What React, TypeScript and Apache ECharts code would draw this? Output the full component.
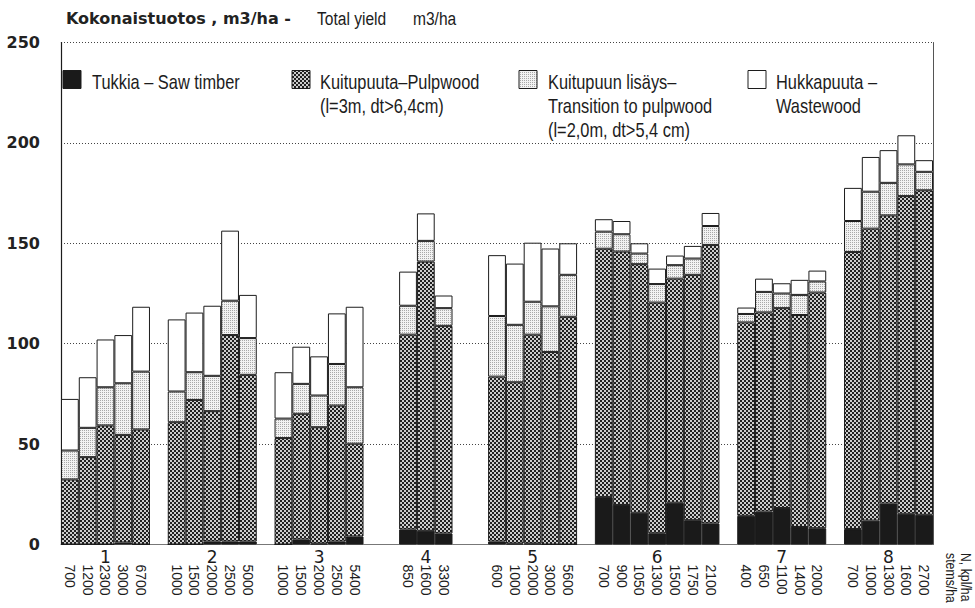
import React, { useEffect, useRef } from 'react';
import * as echarts from 'echarts';

// Stand groups 1–8 and the stem densities (stems/ha) of each plot in them
const groupNames = ['1', '2', '3', '4', '5', '6', '7', '8'];
const stemsPerHa = [
  ['700', '1200', '2300', '3000', '6700'],
  ['1000', '1500', '2000', '2500', '5000'],
  ['1000', '1500', '2000', '2500', '5400'],
  ['850', '1600', '3300'],
  ['600', '1000', '2000', '3000', '5600'],
  ['700', '900', '1050', '1300', '1500', '1750', '2100'],
  ['400', '650', '1100', '1400', '2000'],
  ['700', '1000', '1300', '1600', '2700'],
];

// Yield components, m3/ha (stacked from the bottom)
const sawTimber = [
  [0, 0, 0, 1, 0],
  [0, 0, 1.5, 1.5, 1.5],
  [0, 2.5, 0.5, 1.5, 4],
  [7.5, 6.8, 5.5],
  [1.5, 0.5, 0.5, 0, 0],
  [23.6, 19.7, 15.8, 5.6, 20.8, 12.1, 10.5],
  [14.3, 16.4, 18.2, 8.7, 8.1],
  [7.7, 11.9, 20.4, 15.3, 14.8],
];
const pulpwood = [
  [32.4, 43.5, 59.3, 53.6, 57.3],
  [60.9, 72.0, 64.9, 102.8, 83.0],
  [53.0, 62.6, 57.9, 67.7, 46.2],
  [97.0, 134.1, 103.4],
  [82.1, 80.3, 104.0, 95.9, 113.4],
  [123.7, 126.2, 123.8, 114.9, 111.6, 122.2, 138.7],
  [96.3, 99.2, 99.5, 105.6, 117.4],
  [138.0, 145.4, 143.5, 158.2, 161.6],
];
const transitionToPulp = [
  [14.4, 14.6, 19.0, 25.7, 28.8],
  [15.3, 13.8, 17.6, 17.1, 18.3],
  [9.7, 14.9, 15.8, 20.7, 28.1],
  [14.4, 10.3, 8.8],
  [30.2, 28.6, 16.4, 22.7, 20.9],
  [8.5, 8.6, 5.3, 9.2, 6.7, 8.1, 9.4],
  [4.2, 10.2, 7.3, 10.0, 5.5],
  [15.4, 18.4, 16.2, 15.8, 9.2],
];
const wastewood = [
  [25.7, 25.2, 23.8, 24.0, 32.3],
  [35.9, 29.7, 34.9, 34.9, 21.5],
  [23.1, 18.5, 19.5, 25.2, 40.1],
  [17.0, 13.7, 6.3],
  [30.3, 30.5, 29.4, 28.8, 15.7],
  [6.2, 6.6, 5.1, 7.7, 4.8, 6.3, 6.5],
  [3.2, 6.6, 5.1, 7.5, 5.4],
  [16.5, 17.3, 16.3, 14.5, 5.8],
];

const seriesNames = ['Tukkia – Saw timber', 'Kuitupuuta–Pulpwood', 'Kuitupuun lisäys–', 'Hukkapuuta –'];
const legendTexts = [
  'Tukkia – Saw timber',
  'Kuitupuuta–Pulpwood\n(l=3m, dt>6,4cm)',
  'Kuitupuun lisäys–\nTransition to pulpwood\n(l=2,0m, dt>5,4 cm)',
  'Hukkapuuta –\nWastewood',
];
const yTickStep = 50;
const yMax = 250;

// empty category slots left between consecutive groups
const gapAfterGroup = [1, 1, 2, 2, 1, 1, 1, 0];

const SANS = "'Liberation Sans', Arial, sans-serif";
const DEJAVU = "'DejaVu Sans', sans-serif";
const INK = '#1c1c1c';
// horizontal squeeze that turns Liberation Sans into a narrow lettering
const NARROW_SCALE = 0.82;

function makeTile(size: number, paint: (ctx: CanvasRenderingContext2D) => void) {
  const c = document.createElement('canvas');
  c.width = size;
  c.height = size;
  const ctx = c.getContext('2d')!;
  paint(ctx);
  return c;
}

function narrowText(x: number, y: number, text: string, size: number, extra: any = {}) {
  return {
    type: 'text',
    x,
    y,
    scaleX: NARROW_SCALE,
    silent: true,
    ...extra,
    style: {
      text,
      font: `${size}px ${SANS}`,
      fill: INK,
      align: 'left',
      verticalAlign: 'top',
      ...(extra.style || {}),
    },
  };
}

function buildOption() {
  const slotKeys: string[] = [];
  const stemLabels: string[] = [];
  const groupLabels: string[] = [];
  const stacks: (number | string)[][] = [[], [], [], []];
  const sources = [sawTimber, pulpwood, transitionToPulp, wastewood];

  groupNames.forEach((g, gi) => {
    const n = stemsPerHa[gi].length;
    stemsPerHa[gi].forEach((s, i) => {
      slotKeys.push(`p${gi}-${i}`);
      stemLabels.push(s);
      groupLabels.push(i === (n - 1) / 2 ? g : '');
      sources.forEach((src, si) => stacks[si].push(src[gi][i]));
    });
    for (let k = 0; k < gapAfterGroup[gi]; k++) {
      slotKeys.push(`gap${gi}-${k}`);
      stemLabels.push('');
      groupLabels.push('');
      stacks.forEach((a) => a.push('-'));
    }
  });

  const checker = makeTile(4, (ctx) => {
    ctx.fillStyle = '#cccccc';
    ctx.fillRect(0, 0, 4, 4);
    ctx.fillStyle = '#202020';
    ctx.fillRect(0, 0, 2, 2);
    ctx.fillRect(2, 2, 2, 2);
  });
  const stipple = makeTile(2, (ctx) => {
    ctx.fillStyle = '#f2f2f2';
    ctx.fillRect(0, 0, 2, 2);
    ctx.fillStyle = '#a8a8a8';
    ctx.fillRect(0, 0, 1, 1);
  });

  const fills: any[] = [
    '#1a1a1a',
    { image: checker, repeat: 'repeat' },
    { image: stipple, repeat: 'repeat' },
    '#ffffff',
  ];

  const series = stacks.map((data, si) => ({
    name: seriesNames[si],
    type: 'bar',
    stack: 'total',
    barWidth: '100%',
    barCategoryGap: '0%',
    data,
    itemStyle: { color: fills[si], borderColor: INK, borderWidth: 1 },
    emphasis: { disabled: true },
    silent: true,
  }));

  const iconX = [63, 292, 519, 748];
  const textX = [92, 320, 548, 776];
  const legendGraphics: any[] = [];
  legendTexts.forEach((t, i) => {
    legendGraphics.push({
      type: 'rect',
      shape: { x: iconX[i], y: 70.5, width: 18, height: 18 },
      style: { fill: fills[i], stroke: INK, lineWidth: 1 },
      silent: true,
    });
    legendGraphics.push(narrowText(textX[i], 70, t, 20, { style: { lineHeight: 24 } }));
  });

  return {
    animation: false,
    backgroundColor: '#ffffff',
    grid: { left: 61, right: 42, top: 42.5, bottom: 63.5, containLabel: false },
    xAxis: [
      {
        type: 'category',
        data: slotKeys,
        position: 'bottom',
        axisLine: { show: true, lineStyle: { color: '#777', width: 1 } },
        axisTick: { show: false },
        axisLabel: {
          interval: 0,
          rotate: -90,
          margin: 20,
          fontFamily: SANS,
          fontSize: 14,
          color: INK,
          formatter: (_v: string, idx: number) => stemLabels[idx],
        },
        splitLine: { show: false },
      },
      {
        type: 'category',
        data: slotKeys,
        position: 'bottom',
        axisLine: { show: false },
        axisTick: { show: false },
        axisLabel: {
          interval: 0,
          margin: 4,
          fontFamily: DEJAVU,
          fontSize: 17,
          color: INK,
          formatter: (_v: string, idx: number) => groupLabels[idx],
        },
        splitLine: { show: false },
      },
    ],
    yAxis: [
      {
        type: 'value',
        min: 0,
        max: yMax,
        interval: yTickStep,
        axisLine: { show: true, lineStyle: { color: INK, width: 1.2 } },
        axisTick: { show: false },
        axisLabel: {
          margin: 21,
          fontFamily: DEJAVU,
          fontWeight: 'bold',
          fontSize: 16,
          color: '#222',
        },
        splitLine: { show: true, lineStyle: { type: [1, 2], color: '#444', width: 1 } },
      },
      {
        type: 'value',
        min: 0,
        max: yMax,
        interval: yTickStep,
        position: 'right',
        axisLine: { show: true, lineStyle: { color: '#555', width: 1 } },
        axisTick: { show: false },
        axisLabel: { show: false },
        splitLine: { show: false },
      },
    ],
    series,
    graphic: [
      {
        type: 'text',
        x: 66,
        y: 18.5,
        style: {
          text: 'Kokonaistuotos , m3/ha -',
          font: `bold 16px ${DEJAVU}`,
          fill: '#222',
          align: 'left',
          verticalAlign: 'middle',
        },
        silent: true,
      },
      narrowText(317, 18, 'Total yield', 19, { style: { verticalAlign: 'middle' } }),
      narrowText(413, 18, 'm3/ha', 19, { style: { verticalAlign: 'middle' } }),
      narrowText(958, 553, 'N, kpl/ha\nstems/ha', 15, {
        rotation: -Math.PI / 2,
        style: { verticalAlign: 'middle', lineHeight: 15 },
      }),
      ...legendGraphics,
    ],
  };
}

export default function App() {
  const ref = useRef<HTMLDivElement>(null);
  useEffect(() => {
    const chart = echarts.init(ref.current!, null, { renderer: 'svg' });
    chart.setOption(buildOption() as any);
    return () => chart.dispose();
  }, []);
  return (
    <div
      ref={ref}
      style={{ position: 'absolute', left: 0, top: 0, width: 975, height: 608, background: '#fff' }}
    />
  );
}
